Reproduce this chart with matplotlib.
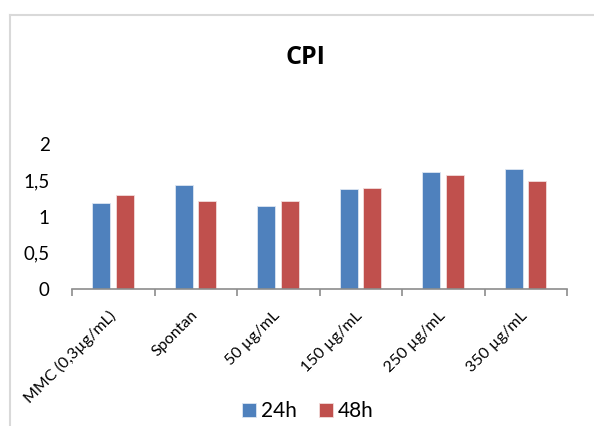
import matplotlib.pyplot as plt
import matplotlib.transforms as mtransforms
from matplotlib.lines import Line2D
import numpy as np

categories = ["MMC (0,3µg/mL)", "Spontan", "50 µg/mL", "150 µg/mL", "250 µg/mL", "350 µg/mL"]
vals_24h = [1.18, 1.43, 1.14, 1.38, 1.62, 1.66]
vals_48h = [1.30, 1.22, 1.21, 1.39, 1.57, 1.49]
yticks = [0, 0.5, 1, 1.5, 2]
ytick_labels = ["0", "0,5", "1", "1,5", "2"]

plt.rcParams["font.family"] = ["Lato", "DejaVu Sans"]

W, H = 594, 426
fig = plt.figure(figsize=(W / 100, H / 100), dpi=100)
ax = fig.add_axes([72 / W, 1 - 289 / H, (567 - 72) / W, (289 - 144) / H])

x = np.arange(len(categories))
w = 0.22
b1 = ax.bar(x - 0.145, vals_24h, w, color="#4F81BD", edgecolor="#DCE6F2", linewidth=0.6, label="24h")
b2 = ax.bar(x + 0.14, vals_48h, w, color="#C0504D", edgecolor="#F2DCDB", linewidth=0.6, label="48h")

ax.set_xlim(-0.5, len(categories) - 0.5)
ax.set_ylim(0, 2)
ax.set_yticks(yticks)
ax.set_yticklabels(ytick_labels, fontsize=13.5)
ax.tick_params(axis="y", length=0, pad=16)

ax.set_xticks(x)
ax.set_xticklabels(categories, fontsize=11.5, rotation=45, ha="right", va="top", rotation_mode="anchor")
ax.tick_params(axis="x", length=0, pad=14)
shift = mtransforms.ScaledTranslation(-5 / 100, 0, fig.dpi_scale_trans)
for lab in ax.get_xticklabels():
    lab.set_transform(lab.get_transform() + shift)
ax.set_xticks(np.arange(-0.5, len(categories), 1), minor=True)
ax.tick_params(axis="x", which="minor", length=5, width=1.2, color="#8C8C8C")

for s in ["top", "right", "left"]:
    ax.spines[s].set_visible(False)
ax.spines["bottom"].set_color("#8C8C8C")
ax.spines["bottom"].set_linewidth(1.2)

fig.text(305 / W, 1 - 57 / H, "CPI", fontsize=18, fontweight="bold", family="Open Sans",
         ha="center", va="center")

fig.legend(handles=[b1, b2], loc="center", bbox_to_anchor=(308 / W, 1 - 411 / H), ncol=2,
           frameon=False, fontsize=15, handlelength=0.67, handleheight=0.67,
           handletextpad=0.25, columnspacing=1.05, borderpad=0)

# chart frame
fig.add_artist(Line2D([10 / W, 1.0], [1 - 15 / H, 1 - 15 / H], transform=fig.transFigure,
                      color="#D9D9D9", linewidth=1.5))
fig.add_artist(Line2D([10 / W, 10 / W], [0, 1 - 15 / H], transform=fig.transFigure,
                      color="#D9D9D9", linewidth=1.5))

fig.savefig("out.png", dpi=100)
